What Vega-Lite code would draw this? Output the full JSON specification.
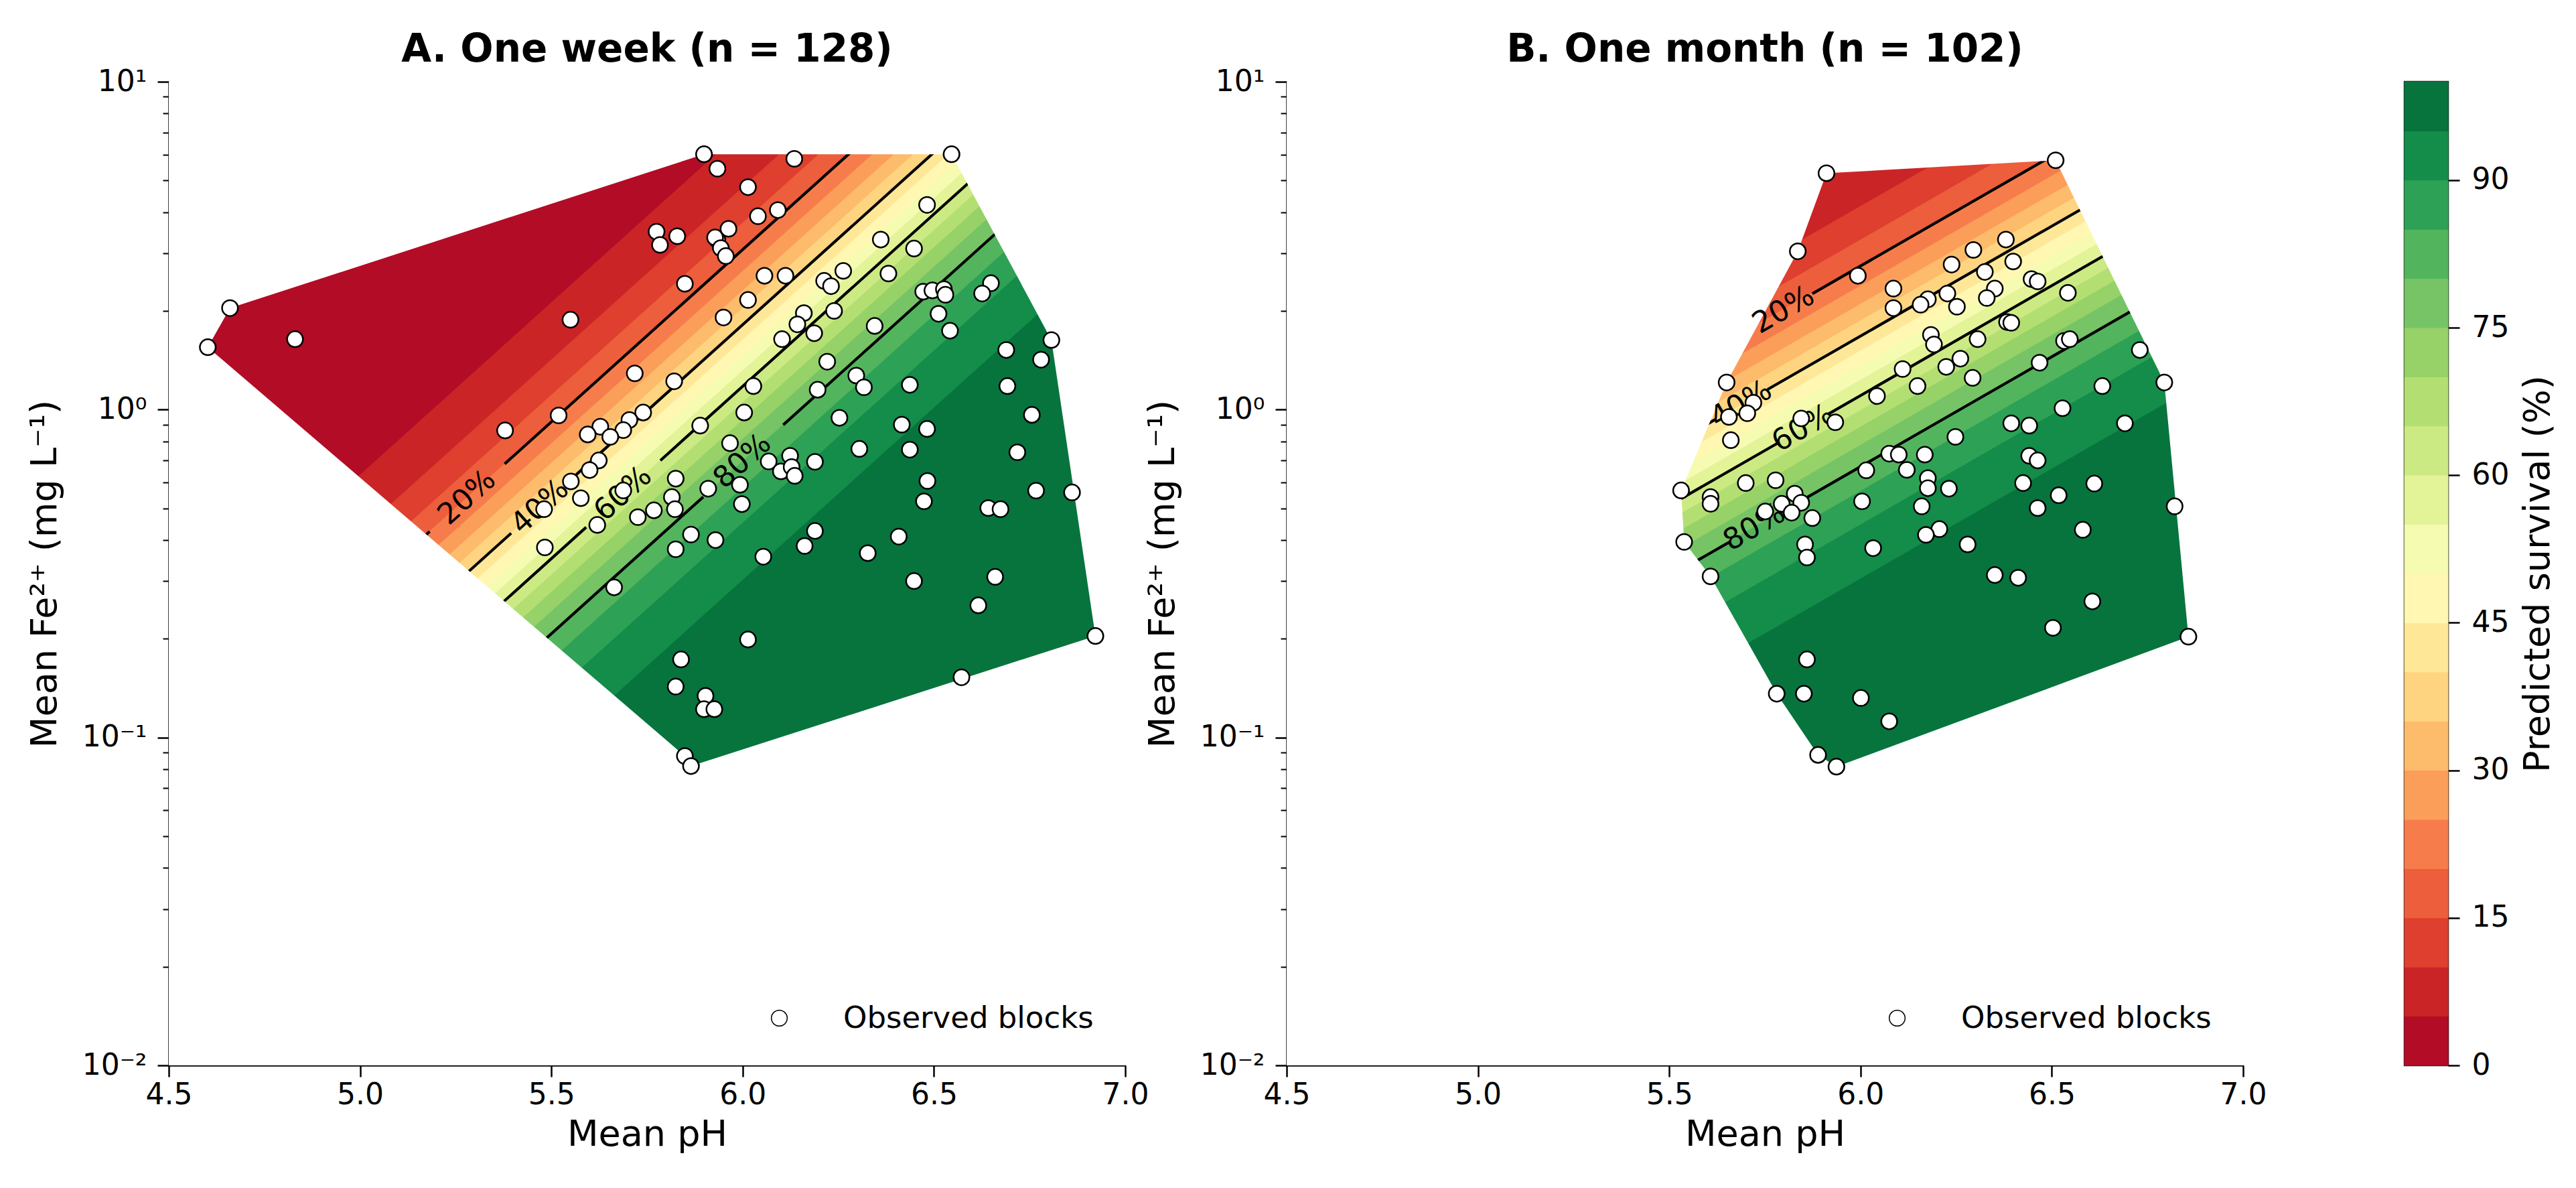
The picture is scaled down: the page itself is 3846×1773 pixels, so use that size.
{
  "$schema": "https://vega.github.io/schema/vega-lite/v6.json",
  "background": "white",
  "padding": {"left": 40, "top": 46, "right": 20, "bottom": 20},
  "spacing": 241,
  "bounds": "flush",
  "resolve": {
    "scale": {"shape": "independent", "fill": "independent", "stroke": "independent"},
    "legend": {"shape": "independent", "fill": "independent", "stroke": "independent"}
  },
  "config": {
    "font": "DejaVu Sans",
    "view": {"stroke": null},
    "axis": {
      "labelFont": "DejaVu Sans", "titleFont": "DejaVu Sans",
      "labelFontSize": 44, "titleFontSize": 54, "titleFontWeight": "normal",
      "labelColor": "black", "titleColor": "black",
      "domainColor": "black", "tickColor": "black",
      "domainWidth": 2.5, "tickWidth": 2.5, "tickSize": 17,
      "labelFlush": false,
      "grid": false, "zindex": 1
    },
    "title": {"font": "DejaVu Sans", "fontSize": 58, "fontWeight": "bold", "color": "black"}
  },
  "datasets": {
    "bandsA": [
      {"b":0,"pH":4.5,"fe":0.1882,"fe2":10000},{"b":0,"pH":7.0,"fe":79.80,"fe2":10000},
      {"b":5,"pH":4.5,"fe":0.1260,"fe2":0.1882},{"b":5,"pH":7.0,"fe":53.46,"fe2":79.80},
      {"b":10,"pH":4.5,"fe":0.09829,"fe2":0.1260},{"b":10,"pH":7.0,"fe":41.69,"fe2":53.46},
      {"b":15,"pH":4.5,"fe":0.08155,"fe2":0.09829},{"b":15,"pH":7.0,"fe":34.59,"fe2":41.69},
      {"b":20,"pH":4.5,"fe":0.06990,"fe2":0.08155},{"b":20,"pH":7.0,"fe":29.65,"fe2":34.59},
      {"b":25,"pH":4.5,"fe":0.06102,"fe2":0.06990},{"b":25,"pH":7.0,"fe":25.88,"fe2":29.65},
      {"b":30,"pH":4.5,"fe":0.05401,"fe2":0.06102},{"b":30,"pH":7.0,"fe":22.91,"fe2":25.88},
      {"b":35,"pH":4.5,"fe":0.04814,"fe2":0.05401},{"b":35,"pH":7.0,"fe":20.42,"fe2":22.91},
      {"b":40,"pH":4.5,"fe":0.04319,"fe2":0.04814},{"b":40,"pH":7.0,"fe":18.32,"fe2":20.42},
      {"b":45,"pH":4.5,"fe":0.03877,"fe2":0.04319},{"b":45,"pH":7.0,"fe":16.44,"fe2":18.32},
      {"b":50,"pH":4.5,"fe":0.03479,"fe2":0.03877},{"b":50,"pH":7.0,"fe":14.76,"fe2":16.44},
      {"b":55,"pH":4.5,"fe":0.03123,"fe2":0.03479},{"b":55,"pH":7.0,"fe":13.24,"fe2":14.76},
      {"b":60,"pH":4.5,"fe":0.02783,"fe2":0.03123},{"b":60,"pH":7.0,"fe":11.80,"fe2":13.24},
      {"b":65,"pH":4.5,"fe":0.02463,"fe2":0.02783},{"b":65,"pH":7.0,"fe":10.45,"fe2":11.80},
      {"b":70,"pH":4.5,"fe":0.02150,"fe2":0.02463},{"b":70,"pH":7.0,"fe":9.120,"fe2":10.45},
      {"b":75,"pH":4.5,"fe":0.01843,"fe2":0.02150},{"b":75,"pH":7.0,"fe":7.816,"fe2":9.120},
      {"b":80,"pH":4.5,"fe":0.01529,"fe2":0.01843},{"b":80,"pH":7.0,"fe":6.486,"fe2":7.816},
      {"b":85,"pH":4.5,"fe":0.01193,"fe2":0.01529},{"b":85,"pH":7.0,"fe":5.058,"fe2":6.486},
      {"b":90,"pH":4.5,"fe":0.007990,"fe2":0.01193},{"b":90,"pH":7.0,"fe":3.388,"fe2":5.058},
      {"b":95,"pH":4.5,"fe":0.00001,"fe2":0.007990},{"b":95,"pH":7.0,"fe":0.00001,"fe2":3.388}
    ],
    "bandsB": [
      {"b":0,"pH":4.5,"fe":0.6009,"fe2":10000},{"b":0,"pH":7.0,"fe":28.52,"fe2":10000},
      {"b":5,"pH":4.5,"fe":0.4109,"fe2":0.6009},{"b":5,"pH":7.0,"fe":19.50,"fe2":28.52},
      {"b":10,"pH":4.5,"fe":0.3248,"fe2":0.4109},{"b":10,"pH":7.0,"fe":15.41,"fe2":19.50},
      {"b":15,"pH":4.5,"fe":0.2720,"fe2":0.3248},{"b":15,"pH":7.0,"fe":12.91,"fe2":15.41},
      {"b":20,"pH":4.5,"fe":0.2350,"fe2":0.2720},{"b":20,"pH":7.0,"fe":11.15,"fe2":12.91},
      {"b":25,"pH":4.5,"fe":0.2067,"fe2":0.2350},{"b":25,"pH":7.0,"fe":9.811,"fe2":11.15},
      {"b":30,"pH":4.5,"fe":0.1841,"fe2":0.2067},{"b":30,"pH":7.0,"fe":8.736,"fe2":9.811},
      {"b":35,"pH":4.5,"fe":0.1651,"fe2":0.1841},{"b":35,"pH":7.0,"fe":7.834,"fe2":8.736},
      {"b":40,"pH":4.5,"fe":0.1488,"fe2":0.1651},{"b":40,"pH":7.0,"fe":7.063,"fe2":7.834},
      {"b":45,"pH":4.5,"fe":0.1343,"fe2":0.1488},{"b":45,"pH":7.0,"fe":6.376,"fe2":7.063},
      {"b":50,"pH":4.5,"fe":0.1213,"fe2":0.1343},{"b":50,"pH":7.0,"fe":5.755,"fe2":6.376},
      {"b":55,"pH":4.5,"fe":0.1093,"fe2":0.1213},{"b":55,"pH":7.0,"fe":5.188,"fe2":5.755},
      {"b":60,"pH":4.5,"fe":0.09804,"fe2":0.1093},{"b":60,"pH":7.0,"fe":4.653,"fe2":5.188},
      {"b":65,"pH":4.5,"fe":0.08730,"fe2":0.09804},{"b":65,"pH":7.0,"fe":4.142,"fe2":4.653},
      {"b":70,"pH":4.5,"fe":0.07678,"fe2":0.08730},{"b":70,"pH":7.0,"fe":3.644,"fe2":4.142},
      {"b":75,"pH":4.5,"fe":0.06636,"fe2":0.07678},{"b":75,"pH":7.0,"fe":3.149,"fe2":3.644},
      {"b":80,"pH":4.5,"fe":0.05557,"fe2":0.06636},{"b":80,"pH":7.0,"fe":2.637,"fe2":3.149},
      {"b":85,"pH":4.5,"fe":0.04392,"fe2":0.05557},{"b":85,"pH":7.0,"fe":2.084,"fe2":2.637},
      {"b":90,"pH":4.5,"fe":0.03003,"fe2":0.04392},{"b":90,"pH":7.0,"fe":1.425,"fe2":2.084},
      {"b":95,"pH":4.5,"fe":0.00001,"fe2":0.03003},{"b":95,"pH":7.0,"fe":0.00001,"fe2":1.425}
    ],
    "linesA": [
      {"seg":"20a","pH":4.5,"fe":0.08155},{"seg":"20a","pH":5.182,"fe":0.4249},
      {"seg":"20b","pH":5.378,"fe":0.6830},{"seg":"20b","pH":7.0,"fe":34.59},
      {"seg":"40a","pH":4.5,"fe":0.04814},{"seg":"40a","pH":5.395,"fe":0.4199},
      {"seg":"40b","pH":5.55,"fe":0.6109},{"seg":"40b","pH":7.0,"fe":20.42},
      {"seg":"60a","pH":4.5,"fe":0.03123},{"seg":"60a","pH":5.591,"fe":0.4377},
      {"seg":"60b","pH":5.785,"fe":0.6998},{"seg":"60b","pH":7.0,"fe":13.24},
      {"seg":"80a","pH":4.5,"fe":0.01843},{"seg":"80a","pH":5.897,"fe":0.5418},
      {"seg":"80b","pH":6.106,"fe":0.8982},{"seg":"80b","pH":7.0,"fe":7.816}
    ],
    "linesB": [
      {"seg":"20a","pH":4.5,"fe":0.2705},{"seg":"20a","pH":5.724,"fe":1.790},
      {"seg":"20b","pH":5.874,"fe":2.257},{"seg":"20b","pH":7.0,"fe":12.84},
      {"seg":"40a","pH":4.5,"fe":0.1655},{"seg":"40a","pH":5.62,"fe":0.9326},
      {"seg":"40b","pH":5.757,"fe":1.152},{"seg":"40b","pH":7.0,"fe":7.852},
      {"seg":"60a","pH":4.5,"fe":0.1089},{"seg":"60a","pH":5.783,"fe":0.7898},
      {"seg":"60b","pH":5.916,"fe":0.9698},{"seg":"60b","pH":7.0,"fe":5.170},
      {"seg":"80a","pH":4.5,"fe":0.06610},{"seg":"80a","pH":5.656,"fe":0.3938},
      {"seg":"80b","pH":5.79,"fe":0.4844},{"seg":"80b","pH":7.0,"fe":3.137}
    ],
    "maskA": [
      {"i":0,"pH":4.4,"fe":20},{"i":1,"pH":7.1,"fe":20},{"i":2,"pH":7.1,"fe":0.005},{"i":3,"pH":4.4,"fe":0.005},
      {"i":4,"pH":4.4,"fe":1.55},{"i":5,"pH":4.602,"fe":1.55},{"i":6,"pH":5.849,"fe":0.0878},{"i":7,"pH":5.865,"fe":0.0818},
      {"i":8,"pH":6.922,"fe":0.204},{"i":9,"pH":6.807,"fe":1.63},{"i":10,"pH":6.546,"fe":6.01},{"i":11,"pH":5.899,"fe":6.01},
      {"i":12,"pH":4.66,"fe":2.04},{"i":13,"pH":4.602,"fe":1.55},{"i":14,"pH":4.4,"fe":1.55},{"i":15,"pH":4.4,"fe":20}
    ],
    "maskB": [
      {"i":0,"pH":4.4,"fe":20},{"i":1,"pH":7.1,"fe":20},{"i":2,"pH":7.1,"fe":0.005},{"i":3,"pH":4.4,"fe":0.005},
      {"i":4,"pH":4.4,"fe":0.567},{"i":5,"pH":5.531,"fe":0.567},{"i":6,"pH":5.539,"fe":0.395},{"i":7,"pH":5.608,"fe":0.31},
      {"i":8,"pH":5.781,"fe":0.136},{"i":9,"pH":5.889,"fe":0.0885},{"i":10,"pH":5.937,"fe":0.0815},{"i":11,"pH":6.857,"fe":0.203},
      {"i":12,"pH":6.794,"fe":1.21},{"i":13,"pH":6.51,"fe":5.76},{"i":14,"pH":5.911,"fe":5.26},{"i":15,"pH":5.836,"fe":3.04},
      {"i":16,"pH":5.65,"fe":1.21},{"i":17,"pH":5.531,"fe":0.567},{"i":18,"pH":4.4,"fe":0.567},{"i":19,"pH":4.4,"fe":20}
    ],
    "labelsA": [
      {"pH":5.28,"fe":0.5385,"lab":"20%"},{"pH":5.471,"fe":0.5047,"lab":"40%"},
      {"pH":5.688,"fe":0.5534,"lab":"60%"},{"pH":6.0,"fe":0.695,"lab":"80%"}
    ],
    "labelsB": [
      {"pH":5.799,"fe":2.01,"lab":"20%"},{"pH":5.688,"fe":1.036,"lab":"40%"},
      {"pH":5.85,"fe":0.8757,"lab":"60%"},{"pH":5.723,"fe":0.4368,"lab":"80%"}
    ],
    "ptsA": [
      {"pH":4.66,"fe":2.04},{"pH":4.602,"fe":1.55},{"pH":4.83,"fe":1.64},{"pH":5.775,"fe":3.49},{"pH":5.784,"fe":3.18},
      {"pH":5.55,"fe":1.88},{"pH":5.718,"fe":1.29},{"pH":5.519,"fe":0.96},{"pH":5.379,"fe":0.864},{"pH":5.74,"fe":0.98},
      {"pH":5.704,"fe":0.93},{"pH":5.688,"fe":0.866},{"pH":5.628,"fe":0.887},{"pH":5.595,"fe":0.84},{"pH":5.654,"fe":0.826},
      {"pH":5.899,"fe":6.01},{"pH":5.934,"fe":5.43},{"pH":6.135,"fe":5.82},{"pH":6.546,"fe":6.01},{"pH":6.014,"fe":4.77},
      {"pH":6.04,"fe":3.89},{"pH":6.092,"fe":4.06},{"pH":5.963,"fe":3.56},{"pH":5.934,"fe":3.29},{"pH":5.928,"fe":3.35},
      {"pH":5.943,"fe":3.11},{"pH":5.956,"fe":2.94},{"pH":5.829,"fe":3.38},{"pH":5.849,"fe":2.42},{"pH":6.057,"fe":2.56},
      {"pH":6.112,"fe":2.56},{"pH":6.014,"fe":2.16},{"pH":5.95,"fe":1.91},{"pH":5.821,"fe":1.22},{"pH":6.361,"fe":3.3},
      {"pH":6.482,"fe":4.21},{"pH":6.448,"fe":3.1},{"pH":6.263,"fe":2.65},{"pH":6.213,"fe":2.47},{"pH":6.231,"fe":2.38},
      {"pH":6.381,"fe":2.6},{"pH":6.472,"fe":2.29},{"pH":6.496,"fe":2.31},{"pH":6.526,"fe":2.33},{"pH":6.53,"fe":2.24},
      {"pH":6.649,"fe":2.43},{"pH":6.626,"fe":2.26},{"pH":6.512,"fe":1.96},{"pH":6.542,"fe":1.74},{"pH":6.16,"fe":1.97},
      {"pH":6.143,"fe":1.82},{"pH":6.187,"fe":1.71},{"pH":6.103,"fe":1.64},{"pH":6.239,"fe":2.0},{"pH":6.345,"fe":1.8},
      {"pH":6.221,"fe":1.4},{"pH":6.028,"fe":1.18},{"pH":6.004,"fe":0.98},{"pH":5.889,"fe":0.894},{"pH":6.297,"fe":1.27},
      {"pH":6.317,"fe":1.17},{"pH":6.196,"fe":1.15},{"pH":6.437,"fe":1.19},{"pH":6.689,"fe":1.52},{"pH":6.807,"fe":1.63},
      {"pH":6.78,"fe":1.42},{"pH":6.692,"fe":1.18},{"pH":6.756,"fe":0.964},{"pH":6.253,"fe":0.944},{"pH":6.416,"fe":0.9},
      {"pH":6.482,"fe":0.873},{"pH":5.967,"fe":0.79},
      {"pH":6.305,"fe":0.759},{"pH":6.437,"fe":0.755},{"pH":6.718,"fe":0.741},{"pH":6.068,"fe":0.695},{"pH":6.124,"fe":0.723},
      {"pH":6.1,"fe":0.648},{"pH":6.128,"fe":0.668},{"pH":6.136,"fe":0.628},{"pH":6.189,"fe":0.693},{"pH":5.825,"fe":0.616},
      {"pH":5.993,"fe":0.59},{"pH":5.91,"fe":0.574},{"pH":5.815,"fe":0.541},{"pH":5.823,"fe":0.497},{"pH":5.998,"fe":0.515},
      {"pH":6.483,"fe":0.606},{"pH":6.474,"fe":0.525},{"pH":6.767,"fe":0.566},{"pH":6.861,"fe":0.559},{"pH":6.642,"fe":0.501},
      {"pH":6.674,"fe":0.497},{"pH":5.865,"fe":0.416},{"pH":5.929,"fe":0.4},{"pH":5.825,"fe":0.375},{"pH":6.189,"fe":0.4265},
      {"pH":6.162,"fe":0.384},{"pH":6.054,"fe":0.356},{"pH":6.408,"fe":0.41},{"pH":6.327,"fe":0.365},{"pH":6.448,"fe":0.3},
      {"pH":6.66,"fe":0.309},{"pH":6.616,"fe":0.253},{"pH":6.014,"fe":0.199},{"pH":5.839,"fe":0.173},{"pH":5.825,"fe":0.143},
      {"pH":5.903,"fe":0.134},{"pH":5.899,"fe":0.122},{"pH":5.926,"fe":0.122},{"pH":6.572,"fe":0.1526},{"pH":6.922,"fe":0.204},
      {"pH":5.849,"fe":0.0878},{"pH":5.865,"fe":0.0818},
      {"pH":5.624,"fe":0.7},{"pH":5.6,"fe":0.654},{"pH":5.551,"fe":0.604},{"pH":5.577,"fe":0.537},{"pH":5.481,"fe":0.497},
      {"pH":5.688,"fe":0.567},{"pH":5.726,"fe":0.47},{"pH":5.768,"fe":0.493},{"pH":5.62,"fe":0.445},{"pH":5.483,"fe":0.38},
      {"pH":5.664,"fe":0.287}
    ],
    "ptsB": [
      {"pH":5.911,"fe":5.26},{"pH":6.51,"fe":5.76},{"pH":5.836,"fe":3.04},{"pH":5.993,"fe":2.56},{"pH":6.38,"fe":3.3},
      {"pH":6.295,"fe":3.07},{"pH":6.399,"fe":2.83},{"pH":6.238,"fe":2.77},{"pH":6.325,"fe":2.63},{"pH":6.447,"fe":2.5},
      {"pH":6.463,"fe":2.46},{"pH":6.351,"fe":2.34},{"pH":6.33,"fe":2.19},{"pH":6.227,"fe":2.26},{"pH":6.086,"fe":2.34},
      {"pH":6.176,"fe":2.17},{"pH":6.157,"fe":2.09},{"pH":6.252,"fe":2.06},{"pH":6.086,"fe":2.04},{"pH":6.542,"fe":2.27},
      {"pH":6.383,"fe":1.85},{"pH":6.394,"fe":1.84},{"pH":6.184,"fe":1.69},{"pH":6.192,"fe":1.58},{"pH":6.306,"fe":1.64},
      {"pH":6.532,"fe":1.62},{"pH":6.547,"fe":1.64},{"pH":6.73,"fe":1.52},{"pH":6.261,"fe":1.43},{"pH":6.224,"fe":1.35},
      {"pH":6.293,"fe":1.25},{"pH":6.11,"fe":1.33},{"pH":6.149,"fe":1.18},{"pH":6.468,"fe":1.39},{"pH":6.794,"fe":1.21},
      {"pH":6.632,"fe":1.18},{"pH":6.043,"fe":1.1},{"pH":5.65,"fe":1.21},{"pH":5.72,"fe":1.05},{"pH":5.704,"fe":0.975},
      {"pH":5.656,"fe":0.95},{"pH":5.845,"fe":0.94},{"pH":5.934,"fe":0.915},{"pH":6.528,"fe":1.01},{"pH":6.394,"fe":0.908},
      {"pH":6.441,"fe":0.894},{"pH":6.691,"fe":0.908},{"pH":6.248,"fe":0.826},{"pH":5.661,"fe":0.807},
      {"pH":6.075,"fe":0.734},{"pH":6.1,"fe":0.729},{"pH":6.168,"fe":0.729},{"pH":6.441,"fe":0.723},{"pH":6.463,"fe":0.7},
      {"pH":6.015,"fe":0.653},{"pH":6.121,"fe":0.655},{"pH":6.176,"fe":0.618},{"pH":6.176,"fe":0.576},{"pH":6.231,"fe":0.574},
      {"pH":5.531,"fe":0.567},{"pH":5.608,"fe":0.541},{"pH":5.608,"fe":0.516},{"pH":5.7,"fe":0.597},{"pH":5.778,"fe":0.609},
      {"pH":5.828,"fe":0.554},{"pH":5.845,"fe":0.52},{"pH":5.794,"fe":0.516},{"pH":5.82,"fe":0.485},{"pH":5.874,"fe":0.467},
      {"pH":5.751,"fe":0.489},{"pH":6.004,"fe":0.525},{"pH":6.16,"fe":0.507},{"pH":6.425,"fe":0.597},{"pH":6.518,"fe":0.548},
      {"pH":6.611,"fe":0.595},{"pH":6.463,"fe":0.501},{"pH":6.821,"fe":0.507},{"pH":6.581,"fe":0.43},{"pH":6.206,"fe":0.432},
      {"pH":6.171,"fe":0.415},{"pH":6.28,"fe":0.388},{"pH":6.033,"fe":0.378},{"pH":5.855,"fe":0.388},{"pH":5.86,"fe":0.354},
      {"pH":5.539,"fe":0.395},{"pH":5.608,"fe":0.31},{"pH":6.351,"fe":0.313},{"pH":6.412,"fe":0.307},{"pH":6.606,"fe":0.26},
      {"pH":6.503,"fe":0.216},{"pH":6.857,"fe":0.203},{"pH":5.86,"fe":0.173},{"pH":5.781,"fe":0.136},{"pH":5.852,"fe":0.136},
      {"pH":6.001,"fe":0.132},{"pH":6.075,"fe":0.112},{"pH":5.889,"fe":0.0885},{"pH":5.937,"fe":0.0815}
    ],
    "cbar": [
      {"b":0,"lo":0,"hi":5},{"b":5,"lo":5,"hi":10},{"b":10,"lo":10,"hi":15},{"b":15,"lo":15,"hi":20},
      {"b":20,"lo":20,"hi":25},{"b":25,"lo":25,"hi":30},{"b":30,"lo":30,"hi":35},{"b":35,"lo":35,"hi":40},
      {"b":40,"lo":40,"hi":45},{"b":45,"lo":45,"hi":50},{"b":50,"lo":50,"hi":55},{"b":55,"lo":55,"hi":60},
      {"b":60,"lo":60,"hi":65},{"b":65,"lo":65,"hi":70},{"b":70,"lo":70,"hi":75},{"b":75,"lo":75,"hi":80},
      {"b":80,"lo":80,"hi":85},{"b":85,"lo":85,"hi":90},{"b":90,"lo":90,"hi":95},{"b":95,"lo":95,"hi":100}
    ]
  },
  "hconcat": [
    {
      "width": 1428, "height": 1468,
      "title": {"text": "A. One week (n = 128)", "frame": "group", "anchor": "middle", "baseline": "bottom", "offset": -62},
      "encoding": {
        "x": {"field": "pH", "type": "quantitative", "scale": {"domain": [4.5, 7], "nice": false, "zero": false},
              "axis": {"title": "Mean pH", "values": [4.5, 5, 5.5, 6, 6.5, 7], "format": ".1f", "labelPadding": 5, "titlePadding": 10}},
        "y": {"field": "fe", "type": "quantitative", "stack": null, "scale": {"type": "log", "domain": [0.01, 10], "nice": false},
              "axis": {"title": "Mean Fe²⁺ (mg L⁻¹)",
                       "values": [0.01,0.02,0.03,0.04,0.05,0.06,0.07,0.08,0.09,0.1,0.2,0.3,0.4,0.5,0.6,0.7,0.8,0.9,1,2,3,4,5,6,7,8,9,10],
                       "labelExpr": "datum.value == 10 ? '10¹' : datum.value == 1 ? '10⁰' : datum.value == 0.1 ? '10⁻¹' : datum.value == 0.01 ? '10⁻²' : ''",
                       "labelOverlap": false, "labelPadding": 16, "titlePadding": 28,
                       "tickSize": {"condition": {"test": "datum.value == 0.01 || datum.value == 0.1 || datum.value == 1 || datum.value == 10", "value": 17}, "value": 9},
                       "tickWidth": {"condition": {"test": "datum.value == 0.01 || datum.value == 0.1 || datum.value == 1 || datum.value == 10", "value": 2.5}, "value": 2}}}
      },
      "layer": [
        {
          "data": {"name": "bandsA"},
          "mark": {"type": "area", "clip": true, "strokeWidth": 1.2},
          "encoding": {
            "y2": {"field": "fe2"},
            "fill": {"field": "b", "type": "ordinal", "legend": null,
                     "scale": {"domain": [0,5,10,15,20,25,30,35,40,45,50,55,60,65,70,75,80,85,90,95],
                               "range": ["#b20c26","#cb2427","#de3f2e","#ed5e3c","#f67d4b","#fb9e5a","#fdbb6c","#fed481","#fee898","#fff7b2","#f6fbb2","#e3f398","#ccea83","#b3df72","#96d268","#76c465","#53b45e","#2da155","#148c4a","#07743d"]}},
            "stroke": {"field": "b", "type": "ordinal", "legend": null,
                     "scale": {"domain": [0,5,10,15,20,25,30,35,40,45,50,55,60,65,70,75,80,85,90,95],
                               "range": ["#b20c26","#cb2427","#de3f2e","#ed5e3c","#f67d4b","#fb9e5a","#fdbb6c","#fed481","#fee898","#fff7b2","#f6fbb2","#e3f398","#ccea83","#b3df72","#96d268","#76c465","#53b45e","#2da155","#148c4a","#07743d"]}}
          }
        },
        {
          "data": {"name": "linesA"},
          "mark": {"type": "line", "color": "black", "strokeWidth": 4.2, "clip": true},
          "encoding": {"detail": {"field": "seg"}}
        },
        {
          "data": {"name": "maskA"},
          "mark": {"type": "line", "fill": "white", "stroke": "white", "strokeWidth": 0, "strokeOpacity": 0, "clip": true},
          "encoding": {"order": {"field": "i", "type": "quantitative"}}
        },
        {
          "data": {"name": "labelsA"},
          "mark": {"type": "text", "fontSize": 44, "font": "DejaVu Sans", "color": "black", "angle": 318, "align": "center", "baseline": "middle"},
          "encoding": {"text": {"field": "lab"}}
        },
        {
          "data": {"name": "ptsA"},
          "mark": {"type": "point", "filled": true, "fill": "white", "stroke": "black", "strokeWidth": 2.5, "size": 560, "opacity": 1},
          "encoding": {
            "shape": {"datum": "Observed blocks", "type": "nominal", "scale": {"range": ["circle"]},
                      "legend": {"title": null, "orient": "bottom-right", "offset": 47, "padding": 0, "zindex": 2, "labelLimit": 0, "labelFontSize": 45, "labelFont": "DejaVu Sans", "labelColor": "black", "labelOffset": 73, "symbolType": "circle", "symbolSize": 560,
                                 "encode": {"symbols": {"update": {"fill": {"value": "white"}, "stroke": {"value": "black"}, "strokeWidth": {"value": 2.5}, "opacity": {"value": 1}, "fillOpacity": {"value": 1}, "strokeOpacity": {"value": 1}, "shape": {"value": "circle"}, "size": {"value": 560}}}}}}
          }
        }
      ]
    },
    {
      "width": 1428, "height": 1468,
      "title": {"text": "B. One month (n = 102)", "frame": "group", "anchor": "middle", "baseline": "bottom", "offset": -62},
      "encoding": {
        "x": {"field": "pH", "type": "quantitative", "scale": {"domain": [4.5, 7], "nice": false, "zero": false},
              "axis": {"title": "Mean pH", "values": [4.5, 5, 5.5, 6, 6.5, 7], "format": ".1f", "labelPadding": 5, "titlePadding": 10}},
        "y": {"field": "fe", "type": "quantitative", "stack": null, "scale": {"type": "log", "domain": [0.01, 10], "nice": false},
              "axis": {"title": "Mean Fe²⁺ (mg L⁻¹)",
                       "values": [0.01,0.02,0.03,0.04,0.05,0.06,0.07,0.08,0.09,0.1,0.2,0.3,0.4,0.5,0.6,0.7,0.8,0.9,1,2,3,4,5,6,7,8,9,10],
                       "labelExpr": "datum.value == 10 ? '10¹' : datum.value == 1 ? '10⁰' : datum.value == 0.1 ? '10⁻¹' : datum.value == 0.01 ? '10⁻²' : ''",
                       "labelOverlap": false, "labelPadding": 16, "titlePadding": 28,
                       "tickSize": {"condition": {"test": "datum.value == 0.01 || datum.value == 0.1 || datum.value == 1 || datum.value == 10", "value": 17}, "value": 9},
                       "tickWidth": {"condition": {"test": "datum.value == 0.01 || datum.value == 0.1 || datum.value == 1 || datum.value == 10", "value": 2.5}, "value": 2}}}
      },
      "layer": [
        {
          "data": {"name": "bandsB"},
          "mark": {"type": "area", "clip": true, "strokeWidth": 1.2},
          "encoding": {
            "y2": {"field": "fe2"},
            "fill": {"field": "b", "type": "ordinal", "legend": null,
                     "scale": {"domain": [0,5,10,15,20,25,30,35,40,45,50,55,60,65,70,75,80,85,90,95],
                               "range": ["#b20c26","#cb2427","#de3f2e","#ed5e3c","#f67d4b","#fb9e5a","#fdbb6c","#fed481","#fee898","#fff7b2","#f6fbb2","#e3f398","#ccea83","#b3df72","#96d268","#76c465","#53b45e","#2da155","#148c4a","#07743d"]}},
            "stroke": {"field": "b", "type": "ordinal", "legend": null,
                     "scale": {"domain": [0,5,10,15,20,25,30,35,40,45,50,55,60,65,70,75,80,85,90,95],
                               "range": ["#b20c26","#cb2427","#de3f2e","#ed5e3c","#f67d4b","#fb9e5a","#fdbb6c","#fed481","#fee898","#fff7b2","#f6fbb2","#e3f398","#ccea83","#b3df72","#96d268","#76c465","#53b45e","#2da155","#148c4a","#07743d"]}}
          }
        },
        {
          "data": {"name": "linesB"},
          "mark": {"type": "line", "color": "black", "strokeWidth": 4.2, "clip": true},
          "encoding": {"detail": {"field": "seg"}}
        },
        {
          "data": {"name": "maskB"},
          "mark": {"type": "line", "fill": "white", "stroke": "white", "strokeWidth": 0, "strokeOpacity": 0, "clip": true},
          "encoding": {"order": {"field": "i", "type": "quantitative"}}
        },
        {
          "data": {"name": "labelsB"},
          "mark": {"type": "text", "fontSize": 44, "font": "DejaVu Sans", "color": "black", "angle": 330, "align": "center", "baseline": "middle"},
          "encoding": {"text": {"field": "lab"}}
        },
        {
          "data": {"name": "ptsB"},
          "mark": {"type": "point", "filled": true, "fill": "white", "stroke": "black", "strokeWidth": 2.5, "size": 560, "opacity": 1},
          "encoding": {
            "shape": {"datum": "Observed blocks", "type": "nominal", "scale": {"range": ["circle"]},
                      "legend": {"title": null, "orient": "bottom-right", "offset": 47, "padding": 0, "zindex": 2, "labelLimit": 0, "labelFontSize": 45, "labelFont": "DejaVu Sans", "labelColor": "black", "labelOffset": 73, "symbolType": "circle", "symbolSize": 560,
                                 "encode": {"symbols": {"update": {"fill": {"value": "white"}, "stroke": {"value": "black"}, "strokeWidth": {"value": 2.5}, "opacity": {"value": 1}, "fillOpacity": {"value": 1}, "strokeOpacity": {"value": 1}, "shape": {"value": "circle"}, "size": {"value": 560}}}}}}
          }
        }
      ]
    },
    {
      "width": 65, "height": 1468,
      "view": {"stroke": "#1a1a1a", "strokeWidth": 2.5},
      "data": {"name": "cbar"},
      "mark": {"type": "rect", "strokeWidth": 1},
      "encoding": {
        "y": {"field": "lo", "type": "quantitative", "scale": {"domain": [0, 100], "nice": false, "zero": false},
              "axis": {"orient": "right", "values": [0, 15, 30, 45, 60, 75, 90], "title": "Predicted survival (%)", "titleAngle": 270, "titleBaseline": "top", "domain": false, "labelPadding": 18, "titlePadding": 17}},
        "y2": {"field": "hi"},
        "fill": {"field": "b", "type": "ordinal", "legend": null,
                 "scale": {"domain": [0,5,10,15,20,25,30,35,40,45,50,55,60,65,70,75,80,85,90,95],
                           "range": ["#b20c26","#cb2427","#de3f2e","#ed5e3c","#f67d4b","#fb9e5a","#fdbb6c","#fed481","#fee898","#fff7b2","#f6fbb2","#e3f398","#ccea83","#b3df72","#96d268","#76c465","#53b45e","#2da155","#148c4a","#07743d"]}},
        "stroke": {"field": "b", "type": "ordinal", "legend": null,
                 "scale": {"domain": [0,5,10,15,20,25,30,35,40,45,50,55,60,65,70,75,80,85,90,95],
                           "range": ["#b20c26","#cb2427","#de3f2e","#ed5e3c","#f67d4b","#fb9e5a","#fdbb6c","#fed481","#fee898","#fff7b2","#f6fbb2","#e3f398","#ccea83","#b3df72","#96d268","#76c465","#53b45e","#2da155","#148c4a","#07743d"]}}
      }
    }
  ]
}
